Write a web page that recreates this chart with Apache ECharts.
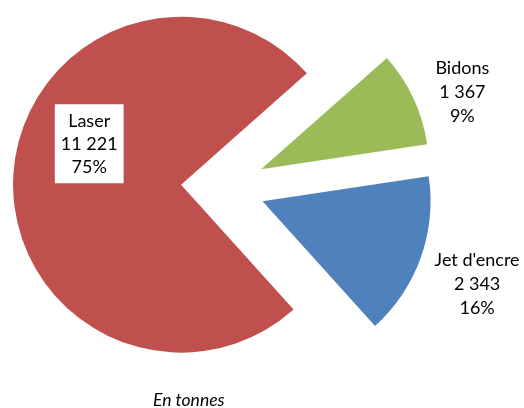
<!DOCTYPE html>
<html>
<head>
<meta charset="utf-8">
<script src="https://cdn.jsdelivr.net/npm/echarts@6/dist/echarts.min.js"></script>
<style>
  html, body { margin: 0; padding: 0; background: #fff; }
  #pie { width: 524px; height: 408px; }
</style>
</head>
<body>
<div id="pie"></div>
<script>
(function () {
  // données (en tonnes)
  let categories = ["Laser", "Jet d'encre", "Bidons"];
  let values = [11221, 2343, 1367];
  let colors = ["#C0504D", "#4F81BD", "#9BBB59"];
  let unitLabel = "En tonnes";

  // décalage des étiquettes par rapport à la position par défaut
  let labelShift = [
    { dx: -5, dy: -36 },
    { dx: 42, dy: 23 },
    { dx: 35, dy: -2 }
  ];

  let total = values.reduce((a, b) => a + b, 0);
  let fmtNum = (v) => String(v).replace(/\B(?=(\d{3})+(?!\d))/g, " ");

  let dom = document.querySelector("#pie");
  let myChart = echarts.init(dom);
  let options = {
    animation: false,
    color: colors,
    textStyle: { fontFamily: "Lato" },
    title: {
      text: unitLabel,
      left: 153,
      top: 391,
      padding: 0,
      textStyle: {
        fontFamily: "Lato",
        fontSize: 17.5,
        fontStyle: "italic",
        fontWeight: "normal",
        color: "#000"
      }
    },
    series: [
      {
        type: "pie",
        center: [223, 187],
        radius: [0, 168],
        startAngle: 41.5,
        clockwise: false,
        selectedMode: "multiple",
        selectedOffset: 42,
        avoidLabelOverlap: false,
        emphasis: { disabled: true },
        select: { itemStyle: { borderWidth: 0 } },
        label: {
          position: "outside",
          color: "#000",
          fontFamily: "Lato",
          fontSize: 18,
          lineHeight: 24,
          overflow: "none",
          formatter: function (p) {
            return p.name + "\n" + fmtNum(p.value) + "\n" + Math.round((p.value / total) * 100) + "%";
          }
        },
        labelLine: { show: false, length: 10, length2: 0 },
        labelLayout: function (params) {
          let s = labelShift[params.dataIndex];
          return { align: "center", dx: s.dx, dy: s.dy };
        },
        data: categories.map(function (name, i) {
          let item = { name: name, value: values[i], selected: true };
          if (i === 0) {
            item.label = {
              position: "inside",
              backgroundColor: "#fff",
              lineHeight: 23,
              padding: [6, 6, 4, 6]
            };
          }
          return item;
        })
      }
    ]
  };
  myChart.setOption(options);
  window.addEventListener("resize", () => {
    myChart.resize();
  });
})();
</script>
</body>
</html>
